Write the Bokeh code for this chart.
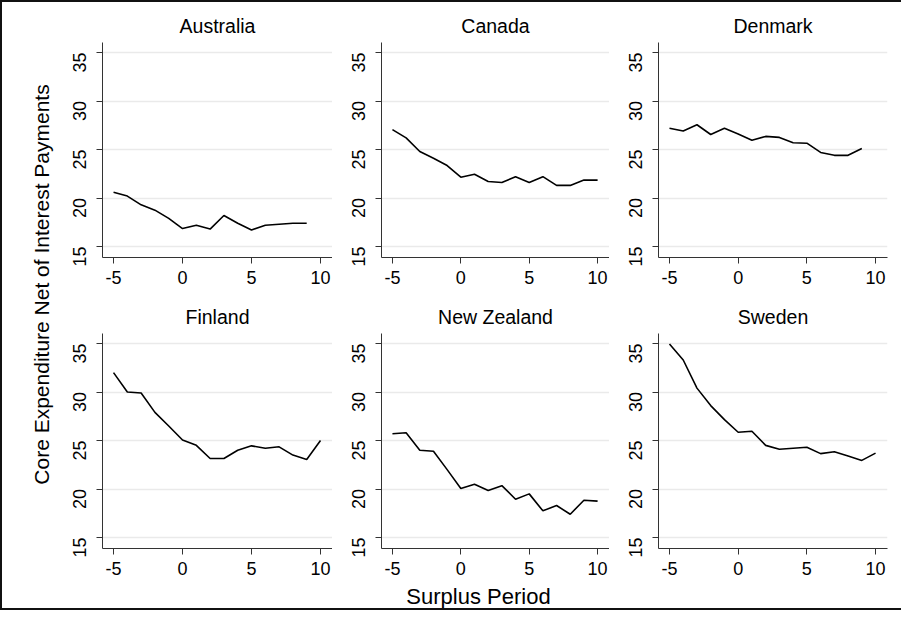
import math
from bokeh.plotting import figure
from bokeh.layouts import row, column
from bokeh.models import Range1d, Label, FixedTicker
from bokeh.embed import file_html
from bokeh.resources import INLINE

FONT = "Liberation Sans"

# ---- data ----
countries = ["Australia", "Canada", "Denmark", "Finland", "New Zealand", "Sweden"]
period_short = [-5, -4, -3, -2, -1, 0, 1, 2, 3, 4, 5, 6, 7, 8, 9]
period_long = [-5, -4, -3, -2, -1, 0, 1, 2, 3, 4, 5, 6, 7, 8, 9, 10]

australia = [20.6, 20.2, 19.3, 18.75, 17.9, 16.85, 17.2, 16.8, 18.2, 17.4, 16.7, 17.2, 17.3, 17.4, 17.4]
canada = [27.05, 26.2, 24.8, 24.1, 23.35, 22.15, 22.45, 21.7, 21.6, 22.2, 21.6, 22.2, 21.3, 21.3, 21.85, 21.85]
denmark = [27.2, 26.9, 27.55, 26.55, 27.2, 26.6, 25.95, 26.35, 26.25, 25.7, 25.65, 24.7, 24.4, 24.4, 25.1]
finland = [32.0, 30.0, 29.9, 27.9, 26.5, 25.05, 24.5, 23.15, 23.15, 24.0, 24.45, 24.2, 24.35, 23.5, 23.05, 25.0]
new_zealand = [25.7, 25.8, 24.0, 23.9, 22.0, 20.05, 20.5, 19.85, 20.35, 18.95, 19.5, 17.75, 18.3, 17.4, 18.85, 18.75]
sweden = [34.95, 33.3, 30.4, 28.6, 27.15, 25.85, 25.95, 24.5, 24.1, 24.2, 24.3, 23.65, 23.85, 23.4, 22.95, 23.7]

series_x = [period_short, period_long, period_short, period_long, period_long, period_long]
series_y = [australia, canada, denmark, finland, new_zealand, sweden]

x_ticks = [-5, 0, 5, 10]
x_tick_labels = ["-5", "0", "5", "10"]
y_ticks = [15, 20, 25, 30, 35]
y_title = "Core Expenditure Net of Interest Payments"
x_title = "Surplus Period"

# ---- layout geometry (pixels) ----
L_W = 58
col_w = [272, 277, 292]
col_left = [42, 49, 49]
col_right = [0, 0, 14]
row_h = [293, 287]
row_top = [40, 38]
row_bottom = [38, 34]
B_H = 26


def panel(i):
    r, c = divmod(i, 3)
    p = figure(width=col_w[c], height=row_h[r],
               x_range=Range1d(-5.8, 10.87), y_range=Range1d(13.87, 36.03),
               output_backend="svg", toolbar_location=None,
               min_border_left=col_left[c], min_border_right=col_right[c],
               min_border_top=row_top[r], min_border_bottom=row_bottom[r],
               title=countries[i])
    p.title.text_font = FONT
    p.title.text_font_size = "19.5px"
    p.title.text_font_style = "normal"
    p.title.text_color = "black"
    p.title.align = "center"
    p.title.standoff = 11
    p.outline_line_color = None
    p.background_fill_color = "white"
    p.border_fill_color = "white"
    p.xgrid.visible = False
    p.ygrid.grid_line_color = "#eaeaea"
    p.ygrid.grid_line_width = 1.3
    p.xaxis.ticker = FixedTicker(ticks=x_ticks)
    p.xaxis.major_label_overrides = dict(zip(x_ticks, x_tick_labels))
    p.yaxis.ticker = FixedTicker(ticks=y_ticks)
    p.ygrid.ticker = FixedTicker(ticks=y_ticks)
    for ax in (p.xaxis, p.yaxis):
        ax.minor_tick_line_color = None
        ax.major_tick_out = 6
        ax.major_tick_in = 0
        ax.axis_line_color = "#333333"
        ax.major_tick_line_color = "#333333"
        ax.major_label_text_font = FONT
        ax.major_label_text_font_size = "18px"
        ax.major_label_text_color = "black"
    p.xaxis.major_label_standoff = 7
    p.yaxis.major_label_standoff = 17
    p.yaxis.major_label_orientation = math.pi / 2
    p.line(series_x[i], series_y[i], line_color="black", line_width=1.6)
    return p


panels = [panel(i) for i in range(6)]

# left title strip
L_H = row_h[0] + row_h[1]
L = figure(width=L_W, height=L_H, x_range=Range1d(0, L_W), y_range=Range1d(0, L_H),
           output_backend="svg", toolbar_location=None, min_border=0,
           x_axis_type=None, y_axis_type=None)
L.outline_line_color = None
L.xgrid.visible = False
L.ygrid.visible = False
L.add_layout(Label(x=38.5, y=L_H - 282, text=y_title, angle=math.pi / 2,
                   text_align="center", text_baseline="middle",
                   text_font=FONT, text_font_size="21px", text_color="black"))

# bottom title strip
B_W = L_W + sum(col_w)
B = figure(width=B_W, height=B_H, x_range=Range1d(0, B_W), y_range=Range1d(0, B_H),
           output_backend="svg", toolbar_location=None, min_border=0,
           x_axis_type=None, y_axis_type=None)
B.outline_line_color = None
B.xgrid.visible = False
B.ygrid.visible = False
B.add_layout(Label(x=476, y=B_H - 13.5, text=x_title,
                   text_align="center", text_baseline="middle",
                   text_font=FONT, text_font_size="22px", text_color="black"))

grid = column(row(*panels[:3]), row(*panels[3:]))
layout = column(row(L, grid), B,
                styles={"border-top": "2px solid #111111",
                        "border-left": "2px solid #111111",
                        "border-bottom": "2px solid #111111"})

open("out.html", "w").write(file_html(layout, INLINE))
